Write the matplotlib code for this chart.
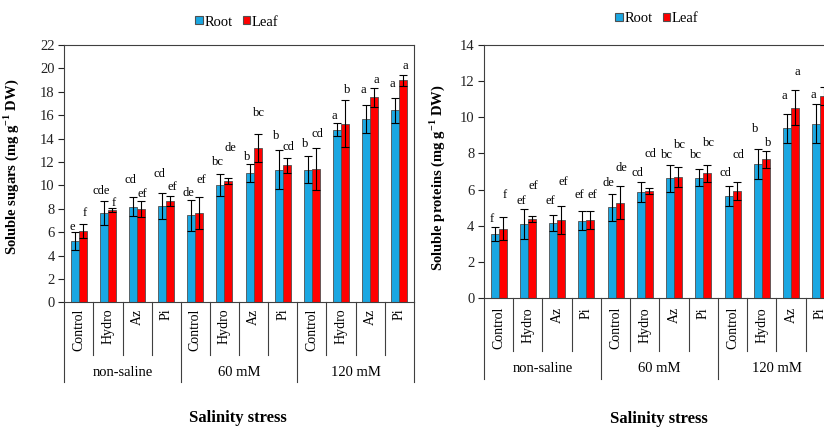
import matplotlib
matplotlib.use('Agg')
import matplotlib.pyplot as plt
from matplotlib.patches import Patch
import matplotlib.transforms as mtransforms

plt.rcParams['font.family'] = ['Liberation Serif', 'DejaVu Serif']
plt.rcParams['mathtext.fontset'] = 'custom'
plt.rcParams['mathtext.rm'] = 'Liberation Serif'
plt.rcParams['mathtext.bf'] = 'Liberation Serif:bold'

treatments = ['Control', 'Hydro', 'Az', 'Pi'] * 3
salinity = ['non-saline', '60 mM', '120 mM']

# Soluble sugars (left panel)
sugar_root = [5.23, 7.65, 8.19, 8.25, 7.43, 10.07, 11.07, 11.35, 11.35, 14.76, 15.7, 16.41]
sugar_root_err = [0.75, 1.0, 0.83, 1.1, 1.3, 0.94, 0.77, 1.7, 1.17, 0.57, 1.2, 1.08]
sugar_leaf = [6.09, 7.88, 7.97, 8.65, 7.6, 10.38, 13.2, 11.72, 11.41, 15.27, 17.54, 18.97]
sugar_leaf_err = [0.57, 0.2, 0.65, 0.43, 1.37, 0.28, 1.22, 0.66, 1.82, 2.0, 0.8, 0.48]
sugar_root_sig = ['e', 'cde', 'cd', 'cd', 'de', 'bc', 'b', 'b', 'b', 'a', 'a', 'a']
sugar_leaf_sig = ['f', 'f', 'ef', 'ef', 'ef', 'de', 'bc', 'cd', 'cd', 'b', 'a', 'a']
sugar_root_sig_y = [6.4, 9.53, 10.44, 11.0, 9.36, 11.98, 12.42, 14.19, 13.5, 15.92, 18.11, 18.63]
sugar_leaf_sig_y = [7.65, 8.5, 9.3, 9.87, 10.44, 13.23, 16.18, 13.28, 14.42, 18.11, 18.97, 20.19]

# Soluble proteins (right panel)
prot_root = [3.53, 4.1, 4.13, 4.28, 5.01, 5.88, 6.61, 6.65, 5.64, 7.4, 9.37, 9.64]
prot_root_err = [0.38, 0.82, 0.44, 0.53, 0.77, 0.55, 0.77, 0.48, 0.55, 0.81, 0.82, 1.1]
prot_leaf = [3.84, 4.37, 4.32, 4.33, 5.27, 5.93, 6.7, 6.89, 5.93, 7.66, 10.52, 11.15]
prot_leaf_err = [0.62, 0.18, 0.79, 0.48, 0.92, 0.17, 0.55, 0.46, 0.5, 0.48, 0.96, 0.48]
prot_root_sig = ['f', 'ef', 'ef', 'ef', 'de', 'cd', 'bc', 'bc', 'cd', 'b', 'a', 'a']
prot_leaf_sig = ['f', 'ef', 'ef', 'ef', 'de', 'cd', 'bc', 'bc', 'cd', 'b', 'a', 'a']
prot_root_sig_y = [4.37, 5.36, 5.36, 5.69, 6.37, 6.92, 7.9, 7.9, 6.89, 9.33, 11.16, 11.2]
prot_leaf_sig_y = [5.69, 6.2, 6.43, 5.69, 7.16, 7.95, 8.45, 8.57, 7.9, 8.54, 12.49, 12.3]

BLUE = '#1aa7e2'
RED = '#ff0000'
EDGE = '#505050'

fig = plt.figure(figsize=(8.24, 4.29), dpi=100)
ax1 = fig.add_axes([64.3 / 824, 1 - 302.3 / 429, 349.5 / 824, 257.3 / 429])
ax2 = fig.add_axes([484.0 / 824, 1 - 298.3 / 429, 351.0 / 824, 253.8 / 429])


def draw(ax, root, root_err, leaf, leaf_err, rsig, lsig, rsig_y, lsig_y,
         ymax, ylabel, label_xy, div_ext, rot_top, grp_y):
    n = len(root)
    x = list(range(n))
    w = 0.275
    ekw = dict(ecolor='black', elinewidth=0.8, capsize=3.2, capthick=0.8)
    ax.bar([i - w / 2 for i in x], root, w, yerr=root_err, color=BLUE,
           edgecolor=EDGE, linewidth=0.6, error_kw=ekw)
    ax.bar([i + w / 2 for i in x], leaf, w, yerr=leaf_err, color=RED,
           edgecolor=EDGE, linewidth=0.6, error_kw=ekw)
    for i in x:
        ax.text(i - w / 2 - 0.1, rsig_y[i], rsig[i], ha='center', va='center', fontsize=9)
        ax.text(i + w / 2 + 0.06, lsig_y[i], lsig[i], ha='center', va='center', fontsize=9)
    ax.set_xlim(-0.5, n - 0.5)
    ax.set_ylim(0, ymax)
    ax.set_yticks(range(0, ymax + 1, 2))
    ax.set_xticks([])
    ax.tick_params(axis='y', direction='out', length=4, width=0.8,
                   labelsize=10.5, pad=3, colors='#222222')
    for s in ax.spines.values():
        s.set_color('#404040')
        s.set_linewidth(0.8)
    ax.set_ylabel(ylabel, fontsize=10.5, fontweight='bold')
    ax.yaxis.set_label_coords(*label_xy)
    trans = mtransforms.blended_transform_factory(ax.transData, ax.transAxes)
    for k in range(n + 1):
        xe = k - 0.5
        yend = div_ext[1] if k % 4 == 0 else div_ext[0]
        ax.plot([xe, xe], [0, yend], transform=trans, color='#404040',
                lw=0.8, clip_on=False)
    for i in x:
        ax.text(i, rot_top, treatments[i], transform=trans, rotation=90,
                ha='center', va='top', fontsize=10)
    for g, name in enumerate(salinity):
        ax.text(4 * g + 1.5, grp_y, name, transform=trans, ha='center',
                va='center', fontsize=10.5)


draw(ax1, sugar_root, sugar_root_err, sugar_leaf, sugar_leaf_err,
     sugar_root_sig, sugar_leaf_sig, sugar_root_sig_y, sugar_leaf_sig_y,
     22, r'Soluble sugars (mg g$^{\mathbf{-1}}$ DW)', (-0.123, 0.525),
     (-0.206, -0.31), -0.024, -0.272)
draw(ax2, prot_root, prot_root_err, prot_leaf, prot_leaf_err,
     prot_root_sig, prot_leaf_sig, prot_root_sig_y, prot_leaf_sig_y,
     14, r'Soluble proteins (mg g$^{\mathbf{-1}}$ DW)', (-0.105, 0.476),
     (-0.206, -0.316), -0.034, -0.277)

fig.text(238 / 824, 1 - 418 / 429, 'Salinity stress', ha='center', va='center',
         fontsize=12, fontweight='bold')
fig.text(659 / 824, 1 - 419 / 429, 'Salinity stress', ha='center', va='center',
         fontsize=12, fontweight='bold')

handles = [Patch(facecolor=BLUE, edgecolor=EDGE, linewidth=0.8, label='Root'),
           Patch(facecolor=RED, edgecolor=EDGE, linewidth=0.8, label='Leaf')]
for cx, cy in [(237, 22), (657, 19)]:
    fig.legend(handles=handles, loc='center', bbox_to_anchor=(cx / 824, 1 - cy / 429),
               ncol=2, frameon=False, fontsize=10.5, handlelength=0.5,
               handleheight=0.5, handletextpad=0.12, columnspacing=0.7,
               borderaxespad=0)

fig.savefig('out.png', dpi=100)
